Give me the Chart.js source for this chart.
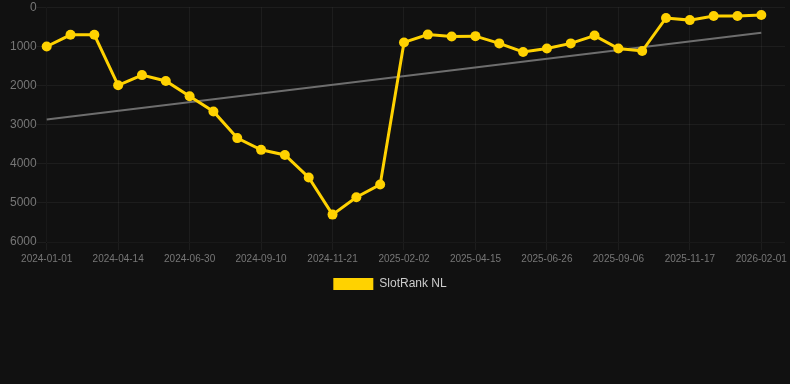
<!DOCTYPE html>
<html lang="en">
<head>
    <meta charset="UTF-8">
    <title>SlotRank NL</title>
    <script src="https://cdn.jsdelivr.net/npm/chart.js"></script>
    <style>
        body { margin: 0; background: #111111; font-family: Arial, "Liberation Sans", sans-serif; }
        .container { width: 790px; height: 300px; position: relative; }
    </style>
</head>
<body>
    <div class="container">
        <canvas id="rankChart"></canvas>
    </div>

    <script>
        // dates of each sample (every 3rd one is printed on the axis)
        const labels = [
            '2024-01-01', '2024-02-04', '2024-03-10', '2024-04-14', '2024-05-10', '2024-06-05',
            '2024-06-30', '2024-07-24', '2024-08-17', '2024-09-10', '2024-10-04', '2024-10-28',
            '2024-11-21', '2024-12-15', '2025-01-09', '2025-02-02', '2025-02-26', '2025-03-22',
            '2025-04-15', '2025-05-09', '2025-06-02', '2025-06-26', '2025-07-20', '2025-08-13',
            '2025-09-06', '2025-09-30', '2025-10-24', '2025-11-17', '2025-12-12', '2026-01-06',
            '2026-02-01', ''
        ];

        const rankNL = [
            1005, 705, 705, 1995, 1735, 1885, 2275, 2665, 3345, 3645, 3775, 4350,
            5300, 4855, 4530, 900, 700, 750, 740, 925, 1145, 1055, 925, 725,
            1055, 1120, 275, 330, 225, 225, 200, null
        ];

        // end points of the grey trend line
        const trendStart = 2870;
        const trendEnd = 655;
        const trend = labels.map(() => null);
        trend[0] = trendStart;
        trend[rankNL.length - 2] = trendEnd;

        const yTicks = [0, 1000, 2000, 3000, 4000, 5000, 6000];

        // nudge the legend a little to the left, like the original
        const legendShift = {
            id: 'legendShift',
            afterLayout(chart) {
                chart.legend.left -= 8;
                chart.legend.right -= 8;
            }
        };

        const ctx = document.getElementById('rankChart').getContext('2d');
        new Chart(ctx, {
            type: 'line',
            data: {
                labels: labels,
                datasets: [{
                    label: 'SlotRank NL',
                    data: rankNL,
                    borderColor: '#ffd200',
                    backgroundColor: '#ffd200',
                    borderWidth: 3,
                    pointRadius: 5,
                    pointHoverRadius: 6,
                    pointBackgroundColor: '#ffd200',
                    pointBorderWidth: 0,
                    tension: 0,
                    fill: false
                }, {
                    label: 'trend',
                    data: trend,
                    borderColor: '#6e6e6e',
                    borderWidth: 2,
                    pointRadius: 0,
                    spanGaps: true,
                    fill: false
                }]
            },
            plugins: [legendShift],
            options: {
                responsive: true,
                maintainAspectRatio: false,
                animation: false,
                layout: { autoPadding: false, padding: { left: 10, right: 4 } },
                plugins: {
                    legend: {
                        position: 'bottom',
                        labels: {
                            color: '#cccccc',
                            font: { size: 12 },
                            boxWidth: 40,
                            boxHeight: 12,
                            generateLabels: chart => Chart.defaults.plugins.legend.labels.generateLabels(chart)
                                .filter(item => item.datasetIndex === 0)
                                .map(item => Object.assign(item, { lineWidth: 0 }))
                        }
                    },
                    tooltip: { enabled: false }
                },
                scales: {
                    x: {
                        grid: { color: 'rgba(255,255,255,0.05)' },
                        ticks: { color: '#777777', font: { size: 10 }, maxRotation: 0, padding: 3 }
                    },
                    y: {
                        reverse: true,
                        min: yTicks[0],
                        max: yTicks[yTicks.length - 1],
                        afterBuildTicks: axis => { axis.ticks = yTicks.map(v => ({ value: v })); },
                        grid: { color: 'rgba(255,255,255,0.05)', tickLength: 10 },
                        ticks: { color: '#777777', font: { size: 12 }, padding: 0, callback: v => String(v) }
                    }
                }
            }
        });
    </script>
</body>
</html>
